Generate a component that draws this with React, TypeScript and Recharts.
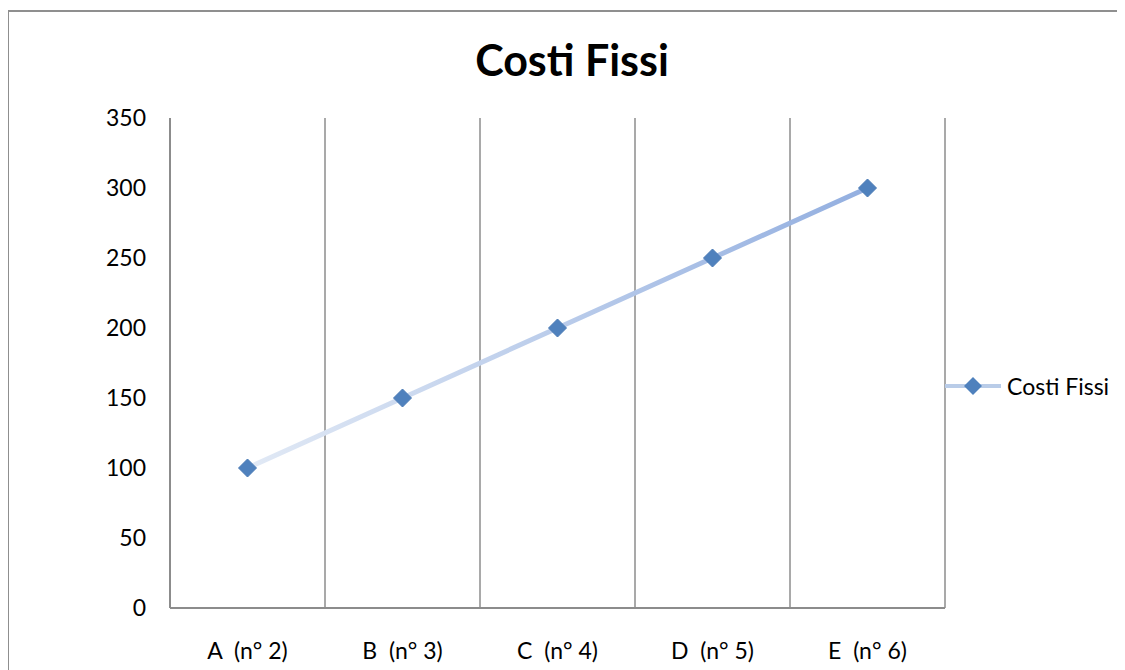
import { LineChart, Line, XAxis, YAxis, CartesianGrid, Legend } from 'recharts';

const categories = ['A  (n° 2)', 'B  (n° 3)', 'C  (n° 4)', 'D  (n° 5)', 'E  (n° 6)'];
const costiFissi = [100, 150, 200, 250, 300];
const yTicks = [0, 50, 100, 150, 200, 250, 300, 350];

const data = categories.map((name, i) => ({ name, costi: costiFissi[i] }));

const FONT = 'Lato, "Open Sans", sans-serif';
const GRID = '#8c8c8c';

const Diamond = (props: any) => {
  const { cx, cy } = props;
  if (cx == null || cy == null) return null;
  const r = 9;
  return (
    <polygon
      points={`${cx},${cy - r} ${cx + r},${cy} ${cx},${cy + r} ${cx - r},${cy}`}
      fill="#4f81bd"
      stroke="#4a7ab5"
      strokeWidth={1}
    />
  );
};

// keeps the double space of the category labels
const CatTick = (props: any) => {
  const { x, y, payload } = props;
  return (
    <text
      x={x}
      y={y}
      dy={18}
      textAnchor="middle"
      fill="#000"
      fontFamily={FONT}
      fontSize={23}
      style={{ whiteSpace: 'pre' }}
    >
      {payload.value}
    </text>
  );
};

const LegendBox = () => (
  <div style={{ display: 'flex', alignItems: 'center', fontFamily: FONT, fontSize: 23, color: '#000' }}>
    <svg width={60} height={22}>
      <line x1={0} y1={11} x2={56} y2={11} stroke="#b9cce8" strokeWidth={4} />
      <polygon points="28,2 37,11 28,20 19,11" fill="#4f81bd" />
    </svg>
    <span style={{ marginLeft: 2 }}>Costi Fissi</span>
  </div>
);

export default function App() {
  return (
    <div style={{ width: 1117, height: 662, overflow: 'hidden', position: 'relative' }}>
      <div
        style={{
          position: 'absolute',
          left: -1,
          top: 2,
          width: 1140,
          height: 680,
          border: '2px solid #8f8f8f',
          boxSizing: 'border-box',
        }}
      />
      <div
        style={{
          position: 'absolute',
          left: 0,
          top: 26,
          width: 1128,
          textAlign: 'center',
          fontFamily: FONT,
          fontWeight: 'bold',
          fontSize: 43,
        }}
      >
        Costi Fissi
      </div>
      <div style={{ position: 'absolute', left: 0, top: 0 }}>
        <LineChart width={1117} height={662} data={data} margin={{ top: 110, right: 0, bottom: 32, left: 102 }}>
          <defs>
            <linearGradient id="lineGrad" x1="0" y1="0" x2="1" y2="0">
              <stop offset="0%" stopColor="#e1e9f5" />
              <stop offset="100%" stopColor="#93afe0" />
            </linearGradient>
          </defs>
          <CartesianGrid
            horizontal={false}
            stroke={GRID}
            strokeWidth={1.5}
            verticalCoordinatesGenerator={({ offset }: any) =>
              [1, 2, 3, 4, 5].map((i) => offset.left + (offset.width * i) / 5)
            }
          />
          <XAxis
            dataKey="name"
            scale="band"
            tickLine={false}
            tickSize={0}
            tickMargin={33}
            axisLine={{ stroke: GRID, strokeWidth: 2 }}
            tick={<CatTick />}
          />
          <YAxis
            width={60}
            domain={[0, 350]}
            ticks={yTicks}
            tickLine={false}
            tickSize={0}
            tickMargin={24}
            axisLine={{ stroke: GRID, strokeWidth: 2 }}
            tick={{ fill: '#000', fontFamily: FONT, fontSize: 23 }}
          />
          <Legend
            layout="vertical"
            align="right"
            verticalAlign="middle"
            content={<LegendBox />}
            wrapperStyle={{ position: 'absolute', left: 937, top: 364, width: 180 }}
          />
          <Line
            type="linear"
            dataKey="costi"
            name="Costi Fissi"
            stroke="url(#lineGrad)"
            strokeWidth={5}
            dot={<Diamond />}
            activeDot={false}
            isAnimationActive={false}
          />
        </LineChart>
      </div>
    </div>
  );
}
